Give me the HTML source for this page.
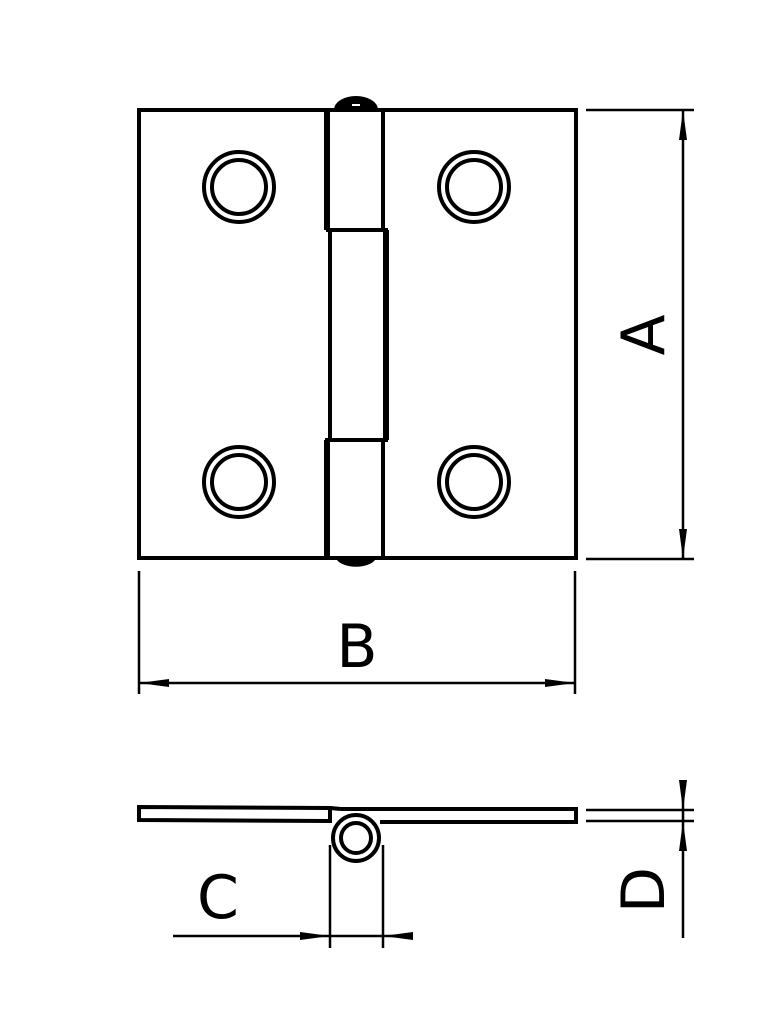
<!DOCTYPE html>
<html><head><style>html,body{margin:0;padding:0;background:#fff}svg{display:block}</style></head>
<body>
<svg width="780" height="1014" viewBox="0 0 780 1014" xmlns="http://www.w3.org/2000/svg">
<g fill="none" stroke="#000" stroke-width="4">
 <path d="M336 110 A20 12 0 0 1 376 110 Z" fill="#000"/>
 <path d="M338 558 A19 10 0 0 0 374 558 Z" fill="#000"/>
 <line x1="352" y1="105" x2="360" y2="105" stroke="#fff" stroke-width="2"/>
 <rect x="139" y="110" width="437" height="448"/>
 <line x1="327" y1="110" x2="327" y2="230" stroke-width="6"/>
 <line x1="383" y1="110" x2="383" y2="230"/>
 <line x1="326" y1="230" x2="388" y2="230"/>
 <line x1="330" y1="230" x2="330" y2="440"/>
 <line x1="386" y1="230" x2="386" y2="440" stroke-width="6"/>
 <line x1="325" y1="440" x2="388" y2="440"/>
 <line x1="327" y1="440" x2="327" y2="558" stroke-width="6"/>
 <line x1="383" y1="440" x2="383" y2="558"/>
 <circle cx="239" cy="187" r="35"/><circle cx="239" cy="187" r="27"/>
 <circle cx="474" cy="187" r="35"/><circle cx="474" cy="187" r="27"/>
 <circle cx="239" cy="482" r="35"/><circle cx="239" cy="482" r="27"/>
 <circle cx="474" cy="482" r="35"/><circle cx="474" cy="482" r="27"/>
</g>
<g fill="none" stroke="#000" stroke-width="2.5">
 <line x1="586" y1="110" x2="694" y2="110"/>
 <line x1="586" y1="559" x2="694" y2="559"/>
 <line x1="683" y1="110" x2="683" y2="559"/>
 <line x1="139" y1="571" x2="139" y2="694"/>
 <line x1="575" y1="571" x2="575" y2="694"/>
 <line x1="139" y1="683" x2="575" y2="683"/>
 <line x1="173" y1="936" x2="413" y2="936"/>
 <line x1="330" y1="845" x2="330" y2="948"/>
 <line x1="383" y1="845" x2="383" y2="948"/>
 <line x1="586" y1="810" x2="694" y2="810"/>
 <line x1="586" y1="821" x2="694" y2="821"/>
 <line x1="683" y1="780" x2="683" y2="938"/>
</g>
<g fill="#000">
 <path d="M683 110 L679 140 L687 140 Z"/>
 <path d="M683 559 L679 529 L687 529 Z"/>
 <path d="M139 683 L169 679 L169 687 Z"/>
 <path d="M575 683 L545 679 L545 687 Z"/>
 <path d="M330 936 L300 932 L300 940 Z"/>
 <path d="M383 936 L413 932 L413 940 Z"/>
 <path d="M683 810 L679 780 L687 780 Z"/>
 <path d="M683 821 L679 851 L687 851 Z"/>
</g>
<g fill="none" stroke="#000" stroke-width="4">
 <path d="M139 807 L330 808 L330 821 L139 820 Z"/>
 <path d="M341 809 L576 809 L576 822 L380 822"/>
 <line x1="330" y1="808" x2="341" y2="809"/>
 <circle cx="356" cy="838" r="23"/>
 <circle cx="356" cy="838" r="15"/>
</g>
<g font-family="'DejaVu Sans','Liberation Sans',sans-serif" fill="#000" font-size="60">
 <text x="357" y="667" text-anchor="middle">B</text>
 <text x="218" y="918" text-anchor="middle">C</text>
 <text transform="translate(664,335) rotate(-90)" text-anchor="middle">A</text>
 <text transform="translate(664,890) rotate(-90)" text-anchor="middle">D</text>
</g>
</svg>
</body></html>
